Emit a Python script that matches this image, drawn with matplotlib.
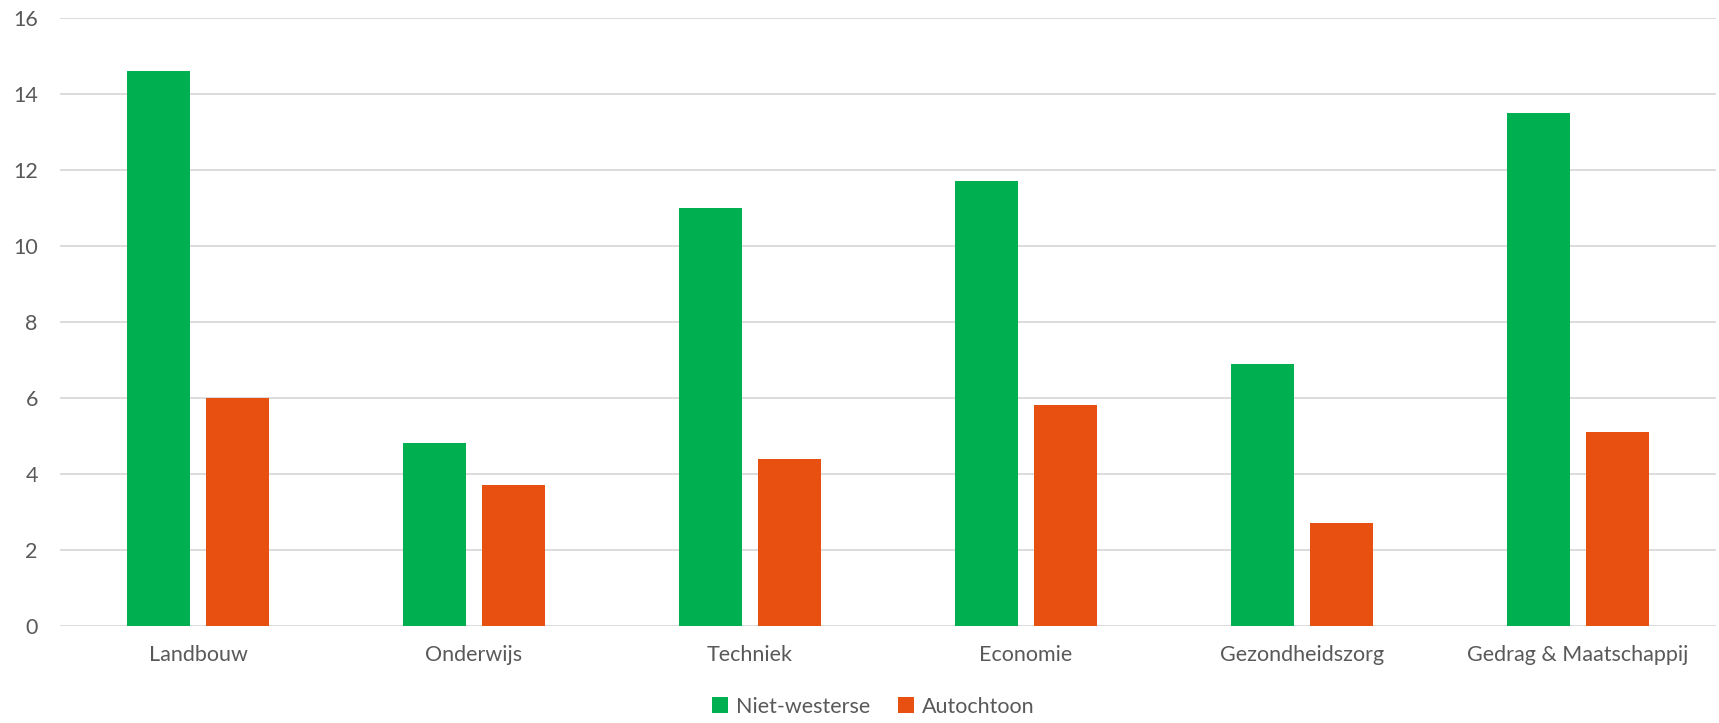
import matplotlib
matplotlib.use("Agg")
import matplotlib.pyplot as plt
import numpy as np

categories = ["Landbouw", "Onderwijs", "Techniek", "Economie",
              "Gezondheidszorg", "Gedrag & Maatschappij"]
niet_westerse = [14.6, 4.8, 11.0, 11.7, 6.9, 13.5]
autochtoon = [6.0, 3.7, 4.4, 5.8, 2.7, 5.1]
yticks = [0, 2, 4, 6, 8, 10, 12, 14, 16]

GREEN = "#00B050"
ORANGE = "#E85012"
TEXT = "#595959"
GRID = "#D9D9D9"

plt.rcParams["font.family"] = ["Lato", "DejaVu Sans"]

fig = plt.figure(figsize=(17.19, 7.23), dpi=100)
ax = fig.add_axes([60 / 1719, 97 / 723, 1656 / 1719, 1 - 17.5 / 723 - 97 / 723])

x = np.arange(len(categories))
w = 0.229
off = w / 2 + 0.03
ax.bar(x - off, niet_westerse, w, color=GREEN, label="Niet-westerse", zorder=3)
ax.bar(x + off, autochtoon, w, color=ORANGE, label="Autochtoon", zorder=3)

ax.set_xlim(-0.5, len(categories) - 0.5)
ax.set_ylim(0, 16)
ax.set_yticks(yticks)
ax.set_xticks(x)
ax.set_xticklabels(categories)
ax.tick_params(axis="both", length=0, labelsize=15.5, colors=TEXT)
ax.tick_params(axis="y", pad=16)
ax.tick_params(axis="x", pad=14)
ax.grid(axis="y", color=GRID, lw=1.3, zorder=0)
for s in ax.spines.values():
    s.set_visible(False)

fig.legend(loc="lower center", bbox_to_anchor=(0.508, -0.018), ncol=2, frameon=False,
           fontsize=15.5, handlelength=0.75, handleheight=0.75, handletextpad=0.35,
           columnspacing=1.3, labelcolor=TEXT)

fig.savefig("out.png", dpi=100)
